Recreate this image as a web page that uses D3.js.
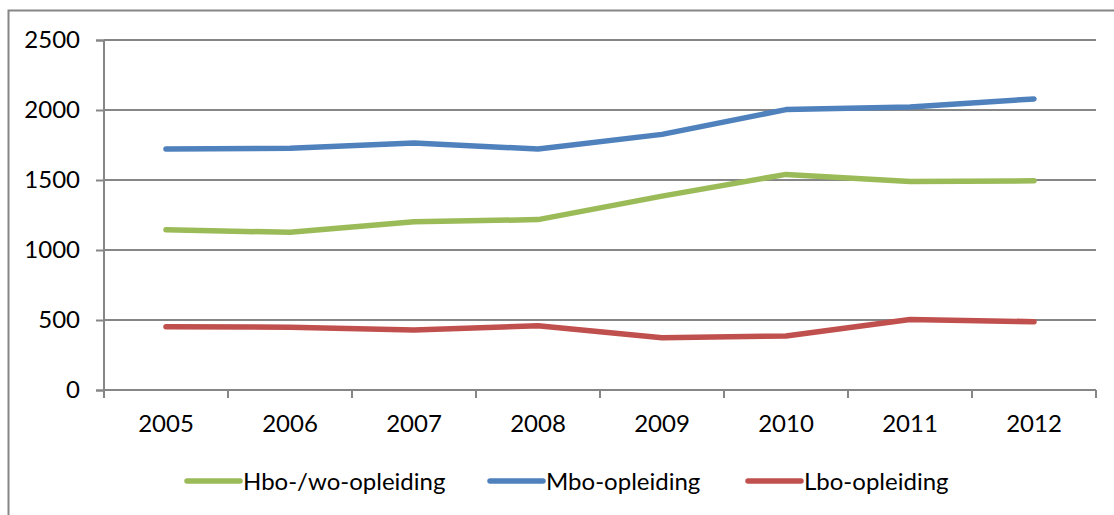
<!DOCTYPE html>
<html><head><meta charset="utf-8">
<script src="https://cdn.jsdelivr.net/npm/d3@7"></script>
<style>body{margin:0;background:#fff;} svg{display:block;}</style>
</head><body>
<svg id="c" width="1114" height="515"></svg>
<script>
const years = ["2005","2006","2007","2008","2009","2010","2011","2012"];
const hbo = [1145, 1126, 1202, 1217, 1385, 1540, 1490, 1494];
const mbo = [1721, 1726, 1765, 1721, 1826, 2003, 2022, 2079];
const lbo = [452, 449, 429, 459, 373, 386, 503, 488];
const yTicks = [0, 500, 1000, 1500, 2000, 2500];
const seriesNames = ["Hbo-/wo-opleiding", "Mbo-opleiding", "Lbo-opleiding"];
const seriesColors = ["#9BBB59", "#4F81BD", "#C0504D"];
const seriesData = [hbo, mbo, lbo];

const svg = d3.select("#c");
const font = "Lato, 'Open Sans', sans-serif";
const fs = 24;

// outer border (chart area)
svg.append("path").attr("d","M8.5,515 V10.5 H1114").attr("fill","none").attr("stroke","#868686").attr("stroke-width",2);

const x = d3.scaleBand().domain(years).range([104, 1096]).padding(0);
const y = d3.scaleLinear().domain([0, 2500]).range([390, 40]);

// gridlines
svg.append("g").selectAll("line").data(yTicks.filter(d=>d>0)).join("line")
  .attr("x1",104).attr("x2",1096).attr("y1",d=>y(d)).attr("y2",d=>y(d))
  .attr("stroke","#868686").attr("stroke-width",2);

// y axis
const ya = svg.append("g").attr("transform","translate(104,0)")
  .call(d3.axisLeft(y).tickValues(yTicks).tickSize(8).tickPadding(10).tickFormat(d3.format("d")));
ya.select(".domain").attr("stroke","#868686").attr("stroke-width",2).attr("d","M-8,40.5H0V390.5H-8");
ya.selectAll(".tick line").attr("stroke","#868686").attr("stroke-width",2);
ya.selectAll(".tick text").attr("font-family",font).attr("font-size",fs).attr("fill","#000").attr("x",-24);

// x axis
const xa = svg.append("g").attr("transform","translate(0,390)")
  .call(d3.axisBottom(x).tickSize(0).tickPadding(25));
xa.select(".domain").attr("stroke","#868686").attr("stroke-width",2).attr("d","M104,0H1096");
xa.selectAll(".tick text").attr("font-family",font).attr("font-size",fs).attr("fill","#000");
// category boundary tick marks
const bounds = years.map(d=>x(d)).concat([x.range()[1]]);
xa.append("g").selectAll("line").data(bounds).join("line")
  .attr("x1",d=>d).attr("x2",d=>d).attr("y1",0).attr("y2",8)
  .attr("stroke","#868686").attr("stroke-width",2);

// lines
const line = d3.line().x((d,i)=>x(years[i])+x.bandwidth()/2).y(d=>y(d));
svg.append("g").selectAll("path").data(seriesData).join("path")
  .attr("d", d=>line(d)).attr("fill","none")
  .attr("stroke",(d,i)=>seriesColors[i]).attr("stroke-width",5.5)
  .attr("stroke-linecap","round").attr("stroke-linejoin","round");

// legend
const legX = [187, 490, 748];
const lg = svg.append("g");
seriesNames.forEach((n,i)=>{
  lg.append("line").attr("x1",legX[i]).attr("x2",legX[i]+53).attr("y1",481).attr("y2",481)
    .attr("stroke",seriesColors[i]).attr("stroke-width",5.5).attr("stroke-linecap","round");
  lg.append("text").attr("x",legX[i]+56).attr("y",490).text(n)
    .attr("font-family",font).attr("font-size",fs).attr("fill","#000");
});
</script>
</body></html>
